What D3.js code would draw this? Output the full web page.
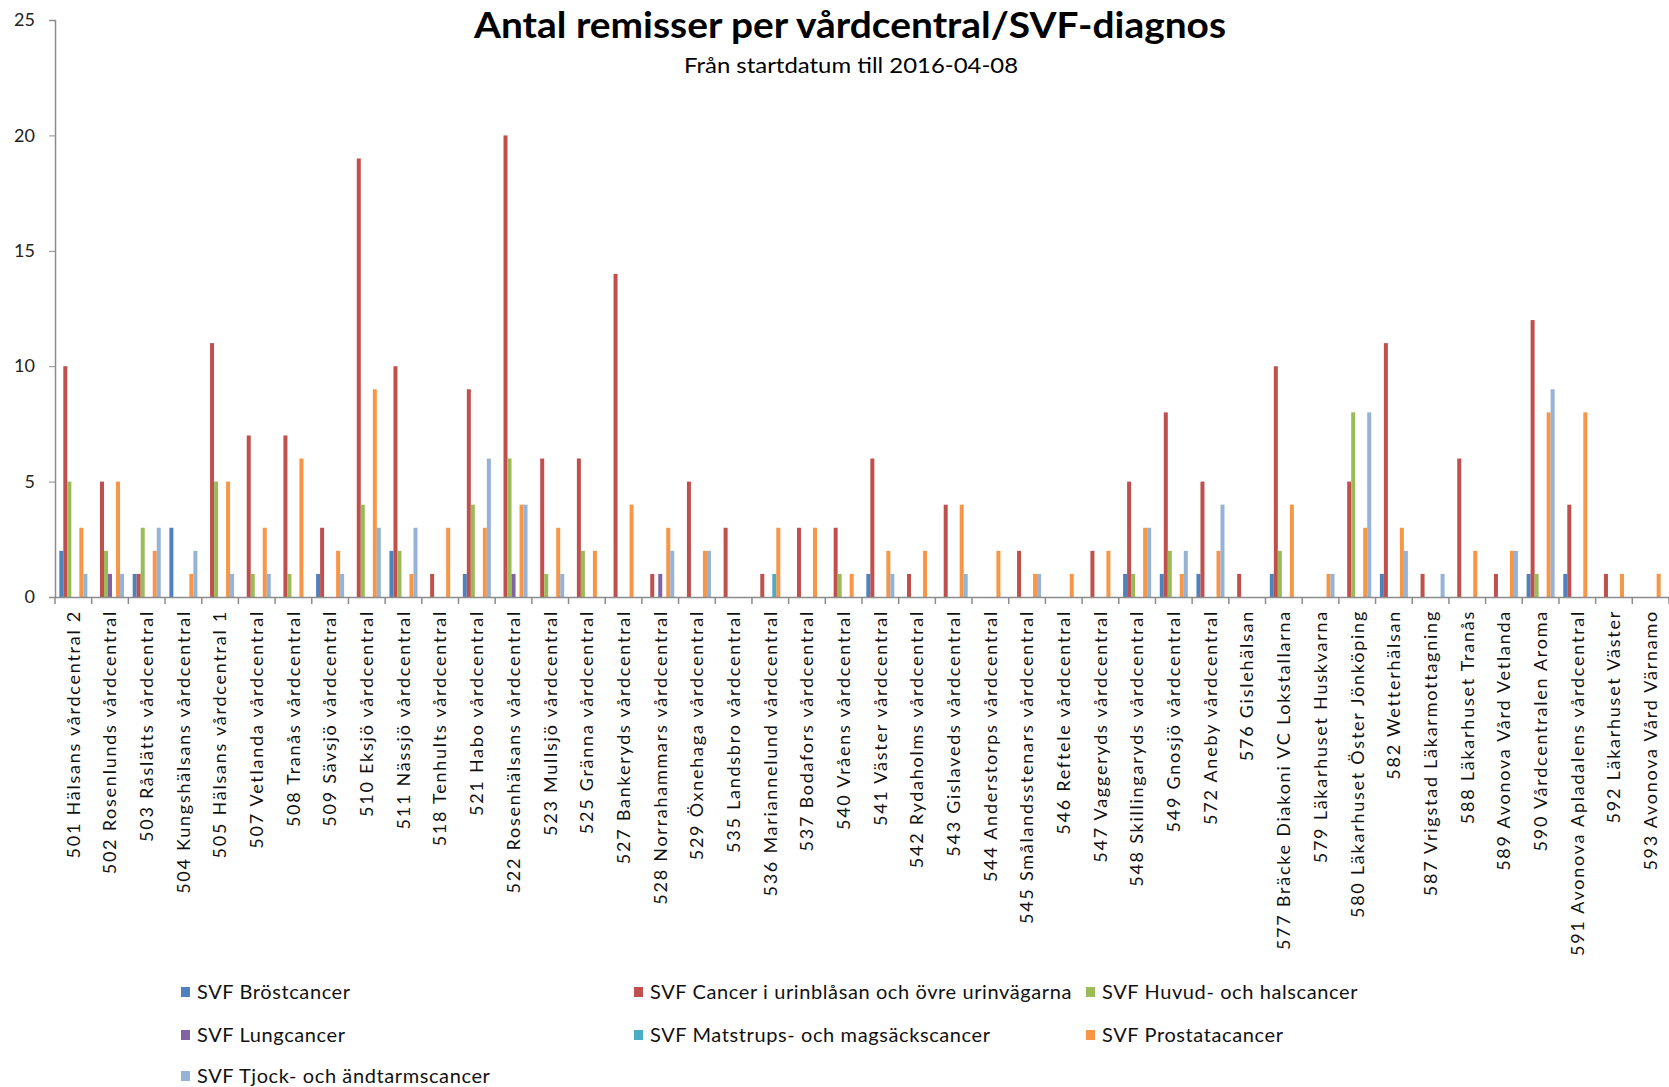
<!DOCTYPE html>
<html>
<head>
<meta charset="utf-8">
<script src="https://cdnjs.cloudflare.com/ajax/libs/d3/7.8.5/d3.min.js"></script>
<style>
  body { margin: 0; background: #fff; }
  text { font-family: Lato, "Open Sans", sans-serif; }
</style>
</head>
<body>
<svg width="1669" height="1087"></svg>
<script>
// Categories (vårdcentraler)
const categories = [
  "501 Hälsans vårdcentral 2", "502 Rosenlunds vårdcentral", "503 Råslätts vårdcentral",
  "504 Kungshälsans vårdcentral", "505 Hälsans vårdcentral 1", "507 Vetlanda vårdcentral",
  "508 Tranås vårdcentral", "509 Sävsjö vårdcentral", "510 Eksjö vårdcentral",
  "511 Nässjö vårdcentral", "518 Tenhults vårdcentral", "521 Habo vårdcentral",
  "522 Rosenhälsans vårdcentral", "523 Mullsjö vårdcentral", "525 Gränna vårdcentral",
  "527 Bankeryds vårdcentral", "528 Norrahammars vårdcentral", "529 Öxnehaga vårdcentral",
  "535 Landsbro vårdcentral", "536 Mariannelund vårdcentral", "537 Bodafors vårdcentral",
  "540 Vråens vårdcentral", "541 Väster vårdcentral", "542 Rydaholms vårdcentral",
  "543 Gislaveds vårdcentral", "544 Anderstorps vårdcentral", "545 Smålandsstenars vårdcentral",
  "546 Reftele vårdcentral", "547 Vaggeryds vårdcentral", "548 Skillingaryds vårdcentral",
  "549 Gnosjö vårdcentral", "572 Aneby vårdcentral", "576 Gislehälsan",
  "577 Bräcke Diakoni VC Lokstallarna", "579 Läkarhuset Huskvarna", "580 Läkarhuset Öster Jönköping",
  "582 Wetterhälsan", "587 Vrigstad Läkarmottagning", "588 Läkarhuset Tranås",
  "589 Avonova Vård Vetlanda", "590 Vårdcentralen Aroma", "591 Avonova Apladalens vårdcentral",
  "592 Läkarhuset Väster", "593 Avonova Vård Värnamo"
];

// Series names
const seriesNames = [
  "SVF Bröstcancer",
  "SVF Cancer i urinblåsan och övre urinvägarna",
  "SVF Huvud- och halscancer",
  "SVF Lungcancer",
  "SVF Matstrups- och magsäckscancer",
  "SVF Prostatacancer",
  "SVF Tjock- och ändtarmscancer"
];

// Series values, one per category (same order as categories)
const brostcancer   = [2,0,1,3,0,0,0,1,0,2,0,1,0,0,0,0,0,0,0,0,0,0,1,0,0,0,0,0,0,1,1,1,0,1,0,0,1,0,0,0,1,1,0,0];
const urinblasan    = [10,5,1,0,11,7,7,3,19,10,1,9,20,6,6,14,1,5,3,1,3,3,6,1,4,0,2,0,2,5,8,5,1,10,0,5,11,1,6,1,12,4,1,0];
const huvudHals     = [5,2,3,0,5,1,1,0,4,2,0,4,6,1,2,0,0,0,0,0,0,1,0,0,0,0,0,0,0,1,2,0,0,2,0,8,0,0,0,0,1,0,0,0];
const lungcancer    = [0,1,0,0,0,0,0,0,0,0,0,0,1,0,0,0,1,0,0,0,0,0,0,0,0,0,0,0,0,0,0,0,0,0,0,0,0,0,0,0,0,0,0,0];
const matstrups     = [0,0,0,0,0,0,0,0,0,0,0,0,0,0,0,0,0,0,0,1,0,0,0,0,0,0,0,0,0,0,0,0,0,0,0,0,0,0,0,0,0,0,0,0];
const prostata      = [3,5,2,1,5,3,6,2,9,1,3,3,4,3,2,4,3,2,0,3,3,1,2,2,4,2,1,1,2,3,1,2,0,4,1,3,3,0,2,2,8,8,1,1];
const tjockAndtarm  = [1,1,3,2,1,1,0,1,3,3,0,6,4,1,0,0,2,2,0,0,0,0,1,0,1,0,1,0,0,3,2,4,0,0,1,8,2,1,0,2,9,0,0,0];

const seriesValues = [brostcancer, urinblasan, huvudHals, lungcancer, matstrups, prostata, tjockAndtarm];
const colors = ["#4F81BD", "#C0504D", "#9BBB59", "#8064A2", "#4BACC6", "#F79646", "#95B3D7"];

const yTicks = [0, 5, 10, 15, 20, 25];

const svg = d3.select("svg");
const plotLeft = 55, plotRight = 1669, plotTop = 20, plotBottom = 597;

// Scales
const x0 = d3.scaleBand()
  .domain(categories)
  .range([plotLeft, plotRight])
  .padding(0);

const x1 = d3.scaleBand()
  .domain(d3.range(seriesNames.length))
  .range([0, x0.bandwidth()])
  .paddingInner(0)
  .paddingOuter(1.08);

const y = d3.scaleLinear()
  .domain([0, 25])
  .range([plotBottom, plotTop]);

const color = d3.scaleOrdinal().domain(d3.range(seriesNames.length)).range(colors);

// Title
svg.append("text")
  .attr("x", 850).attr("y", 38)
  .attr("text-anchor", "middle")
  .attr("font-size", 36).attr("font-weight", "bold")
  .attr("fill", "#000")
  .attr("textLength", 752).attr("lengthAdjust", "spacingAndGlyphs")
  .text("Antal remisser per vårdcentral/SVF-diagnos");

svg.append("text")
  .attr("x", 851).attr("y", 73)
  .attr("text-anchor", "middle")
  .attr("font-size", 21)
  .attr("fill", "#000")
  .attr("textLength", 334).attr("lengthAdjust", "spacingAndGlyphs")
  .text("Från startdatum till 2016-04-08");

// Bars
const groups = svg.append("g")
  .selectAll("g")
  .data(categories)
  .join("g")
  .attr("transform", d => `translate(${x0(d)},0)`);

groups.selectAll("rect")
  .data((d, i) => seriesValues.map((s, k) => ({ k: k, v: s[i] })))
  .join("rect")
  .attr("x", d => x1(d.k))
  .attr("width", x1.bandwidth())
  .attr("y", d => y(d.v))
  .attr("height", d => y(0) - y(d.v))
  .attr("fill", d => color(d.k));

// Y axis
const yAxis = svg.append("g")
  .attr("transform", `translate(${plotLeft},0)`)
  .call(d3.axisLeft(y).tickValues(yTicks).tickSize(6).tickPadding(14));
yAxis.select(".domain").attr("stroke", "#8c8c8c").attr("stroke-width", 1.5);
yAxis.selectAll(".tick line").attr("stroke", "#8c8c8c");
yAxis.selectAll(".tick text")
  .attr("font-size", 18)
  .attr("font-family", "Lato, sans-serif")
  .attr("fill", "#222");

// X axis
const xAxis = svg.append("g")
  .attr("transform", `translate(0,${plotBottom})`)
  .call(d3.axisBottom(x0).tickSize(0).tickPadding(0));
xAxis.select(".domain").attr("stroke", "#8c8c8c").attr("stroke-width", 1.5);
xAxis.selectAll(".tick text")
  .attr("font-size", 18)
  .attr("letter-spacing", 1.75)
  .attr("font-family", "Lato, sans-serif")
  .attr("fill", "#111")
  .attr("text-anchor", "end")
  .attr("transform", "translate(0,13) rotate(-90)")
  .attr("x", 0).attr("y", 0)
  .attr("dy", "0.35em");

// category separator ticks
xAxis.selectAll("line.sep")
  .data(categories.concat([null]))
  .join("line")
  .attr("class", "sep")
  .attr("x1", (d, i) => plotLeft + i * x0.step())
  .attr("x2", (d, i) => plotLeft + i * x0.step())
  .attr("y1", 0).attr("y2", 7)
  .attr("stroke", "#8c8c8c").attr("stroke-width", 1.5);

// Legend
const legendCols = [181, 634, 1086];
const legendRows = [992, 1035, 1076];
const legend = svg.append("g")
  .selectAll("g")
  .data(seriesNames)
  .join("g")
  .attr("transform", (d, i) => `translate(${legendCols[i % 3]},${legendRows[Math.floor(i / 3)]})`);

legend.append("rect")
  .attr("x", 0).attr("y", -5)
  .attr("width", 9).attr("height", 10)
  .attr("fill", (d, i) => color(i));

legend.append("text")
  .attr("x", 16).attr("y", 0)
  .attr("dy", "0.35em")
  .attr("font-size", 20)
  .attr("letter-spacing", 0.6)
  .attr("fill", "#111")
  .text(d => d);
</script>
</body>
</html>
